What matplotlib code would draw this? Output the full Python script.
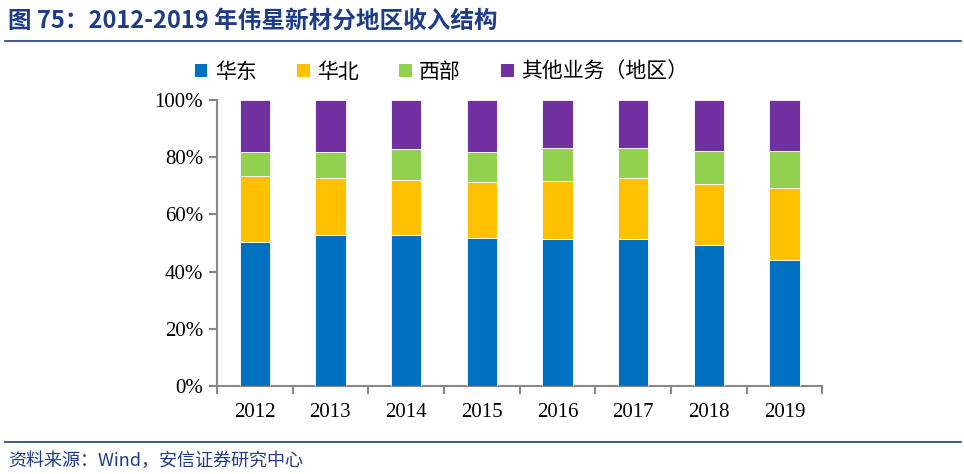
import matplotlib.pyplot as plt
import numpy as np
from matplotlib.lines import Line2D
from matplotlib.patches import Patch

plt.rcParams['font.family'] = ['Noto Sans CJK SC', 'DejaVu Sans']

years = ['2012', '2013', '2014', '2015', '2016', '2017', '2018', '2019']
huadong = [50.2, 52.6, 52.6, 51.7, 51.2, 51.2, 49.4, 44.2]
huabei = [23.3, 20.0, 19.5, 19.5, 20.5, 21.4, 21.3, 25.1]
xibu = [8.3, 9.2, 10.7, 10.6, 11.5, 10.6, 11.5, 12.9]
qita = [18.2, 18.2, 17.2, 18.2, 16.8, 16.8, 17.8, 17.8]

series = [('华东', huadong, '#0070C0'),
          ('华北', huabei, '#FFC000'),
          ('西部', xibu, '#92D050'),
          ('其他业务（地区）', qita, '#7030A0')]

navy = '#1F3C88'

fig = plt.figure(figsize=(9.64, 4.74), dpi=100)
ax = fig.add_axes([0.225, 0.186, 0.628, 0.603])

x = np.arange(len(years))
bottom = np.zeros(len(years))
for name, vals, col in series:
    ax.bar(x, vals, 0.4, bottom=bottom, color=col, edgecolor='white',
           linewidth=0.6, label=name, zorder=3)
    bottom += np.array(vals)

ax.set_xlim(-0.5, len(years) - 0.5)
ax.set_ylim(0, 100)
ax.set_yticks(range(0, 101, 20))
ax.set_yticklabels([f'{v}%' for v in range(0, 101, 20)],
                   family='Liberation Serif', fontsize=15)
ax.set_xticks(x)
ax.set_xticklabels(years, family='Liberation Serif', fontsize=15)
ax.set_xticks(np.arange(-0.5, len(years), 1), minor=True)
ax.tick_params(axis='x', which='major', length=0, pad=12)
ax.tick_params(axis='x', which='minor', length=6, width=1.5, color='#888888', direction='out')
ax.tick_params(axis='y', length=6, width=1.5, color='#888888', direction='out', pad=4)

for s in ['top', 'right']:
    ax.spines[s].set_visible(False)
for s in ['left', 'bottom']:
    ax.spines[s].set_color('#888888')
    ax.spines[s].set_linewidth(1.5)

handles = [Patch(facecolor=c, edgecolor='none') for _, _, c in series]
fig.legend(handles, [n for n, _, _ in series], loc='center', ncol=4,
           bbox_to_anchor=(0.458, 0.848), frameon=False, fontsize=15,
           handlelength=0.6, handleheight=0.6, handletextpad=0.35,
           columnspacing=1.95)

fig.text(0.008, 0.957, '图 75：2012-2019 年伟星新材分地区收入结构', color=navy,
         fontsize=17, fontweight='bold', va='center', ha='left')
fig.add_artist(Line2D([0.005, 0.997], [0.914, 0.914], color=navy, lw=1.2))
fig.add_artist(Line2D([0.005, 0.997], [0.068, 0.068], color=navy, lw=1.2))
fig.text(0.008, 0.027, '资料来源：Wind，安信证券研究中心', color=navy,
         fontsize=13, style='italic', va='center', ha='left')

fig.savefig('out.png', dpi=100)
